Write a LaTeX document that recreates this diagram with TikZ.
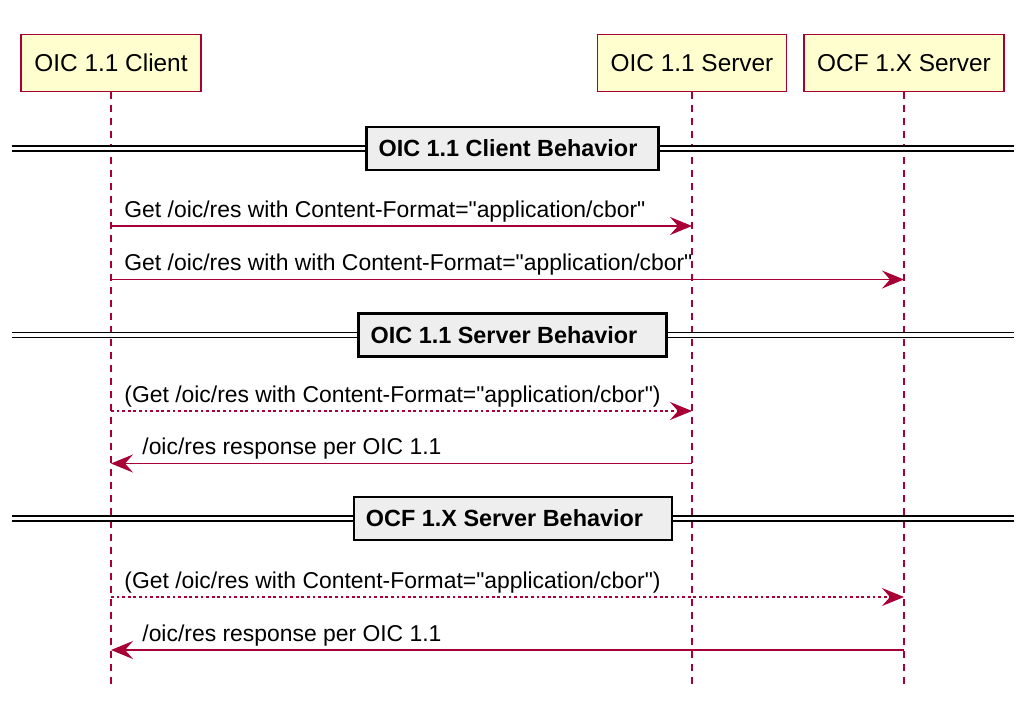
\documentclass[tikz,border=0pt]{standalone}
\usepackage{fontspec}
\setmainfont{Liberation Sans}[Ligatures=TeXOff]
\definecolor{plum}{RGB}{168,0,54}
\definecolor{pale}{RGB}{254,254,206}
\definecolor{divgray}{RGB}{238,238,238}
\usetikzlibrary{arrows.meta,calc,backgrounds}

\begin{document}
\begin{tikzpicture}[x=0.5pt,y=-0.5pt,
    actor/.style={draw=plum,fill=pale,line width=0.75pt,inner xsep=6.6pt,
      minimum height=28.5pt,font=\fontsize{12.2}{14}\selectfont},
    lifeline/.style={plum,line width=0.6pt,dash pattern=on 3.5pt off 3pt},
    divider/.style={draw=black,fill=divgray,line width=1.2pt,inner xsep=6pt,
      minimum height=21.5pt,font=\bfseries\fontsize{11.7}{14}\selectfont},
    sepline/.style={double=white,double distance=1.9pt,line width=0.6pt},
    msg/.style={plum,line width=0.6pt,-{Stealth[length=11pt,width=9pt,inset=4pt]}},
    reply/.style={msg,dash pattern=on 1.4pt off 1.4pt},
    lbl/.style={anchor=base west,inner sep=0pt,font=\fontsize{11.45}{14}\selectfont}]
  \useasboundingbox (0,0) rectangle (1024,707);
  % participants
  \node[actor] (cli) at (111,63) {OIC 1.1 Client};
  \node[actor] (srv) at (692,63) {OIC 1.1 Server};
  \node[actor] (ocf) at (904,63) {OCF 1.X Server};
  \coordinate (bot) at (0,685);
  \coordinate (lft) at (12,0);
  \coordinate (rgt) at (1014,0);
  % rows of the messages
  \coordinate (r1) at (0,226);
  \coordinate (r2) at (0,279.5);
  \coordinate (r3) at (0,411);
  \coordinate (r4) at (0,463.5);
  \coordinate (r5) at (0,597);
  \coordinate (r6) at (0,650);
  % dividers
  \node[divider] (d1) at (512.5,148.5) {OIC 1.1 Client Behavior\kern4.5pt};
  \node[divider] (d2) at (512.5,335)   {OIC 1.1 Server Behavior\kern8.5pt};
  \node[divider] (d3) at (513,518.5)   {OCF 1.X Server Behavior\kern8.5pt};
  \begin{scope}[on background layer]
    \foreach \p in {cli,srv,ocf}
      \draw[lifeline] (\p) -- (\p |- bot);
    \foreach \d in {d1,d2,d3}
      \draw[sepline] (lft |- \d) -- (rgt |- \d);
  \end{scope}
  % messages
  \draw[msg]   (cli |- r1) -- (srv |- r1);
  \draw[msg]   (cli |- r2) -- (ocf |- r2);
  \draw[reply] (cli |- r3) -- (srv |- r3);
  \draw[msg]   (srv |- r4) -- (cli |- r4);
  \draw[reply] (cli |- r5) -- (ocf |- r5);
  \draw[msg]   (ocf |- r6) -- (cli |- r6);
  \node[lbl] (m1) at ($(cli |- r1)+(13,-9)$) {Get /oic/res with Content-Format="application/cbor"};
  \node[lbl] (m2) at ($(cli |- r2)+(13,-9)$) {Get /oic/res with with Content-Format="application/cbor"};
  \node[lbl] (m3) at ($(cli |- r3)+(13,-9)$) {(Get /oic/res with Content-Format="application/cbor")};
  \node[lbl] (m4) at ($(cli |- r4)+(31,-9)$) {/oic/res response per OIC 1.1};
  \node[lbl] (m5) at ($(cli |- r5)+(13,-9)$) {(Get /oic/res with Content-Format="application/cbor")};
  \node[lbl] (m6) at ($(cli |- r6)+(31,-9)$) {/oic/res response per OIC 1.1};
\end{tikzpicture}
\end{document}
